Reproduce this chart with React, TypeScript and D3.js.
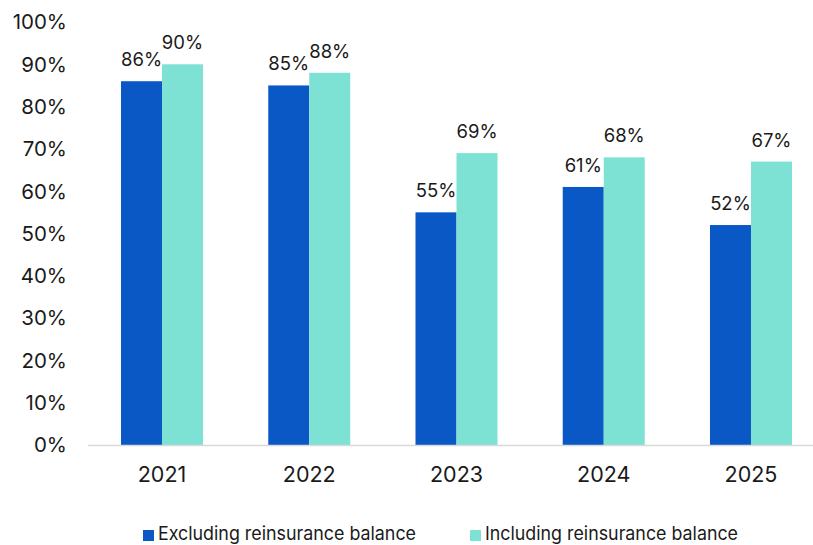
import React from "react";
import * as d3 from "d3";

const categories = ["2021", "2022", "2023", "2024", "2025"];
const excluding = [86, 85, 55, 61, 52];
const including = [90, 88, 69, 68, 67];
const yTicks = [0, 10, 20, 30, 40, 50, 60, 70, 80, 90, 100];
const seriesNames = ["Excluding reinsurance balance", "Including reinsurance balance"];
const colors = ["#0A57C6", "#7DE2D4"];

const W = 813;
const H = 545;
const FONT = "Inter, 'Noto Sans', sans-serif";

export default function App() {
  const y = d3.scaleLinear().domain([0, 100]).range([445, 22]);
  const x = d3.scaleBand().domain(categories).range([88.4, 824.6]).padding(0);
  const groupW = x.bandwidth() * 0.557;
  const sub = d3.scaleBand().domain(["ex", "in"]).range([0, groupW]).padding(0);
  const series = [excluding, including];
  const legendX = [143, 470];
  return (
    <div style={{ position: "fixed", left: 0, top: 0 }}>
      <svg width={W} height={H} style={{ display: "block", fontFamily: FONT }}>
        <rect width={W} height={H} fill="#fff" />
        {yTicks.map((t) => (
          <text key={t} x={67} y={y(t)} dy="0.36em" textAnchor="end" fontSize={20.5} fill="#1a1a1a">
            {t}%
          </text>
        ))}
        {categories.map((c, i) => {
          const gx = (x(c) as number) + (x.bandwidth() - groupW) / 2;
          return (
            <g key={c}>
              {series.map((s, si) => {
                const bx = gx + (sub(si === 0 ? "ex" : "in") as number);
                const v = s[i];
                return (
                  <g key={si}>
                    <rect x={bx} y={y(v)} width={sub.bandwidth()} height={y(0) - y(v)} fill={colors[si]} />
                    <text x={bx + sub.bandwidth() / 2} y={y(v) - 15} textAnchor="middle" fontSize={18.5} fill="#1a1a1a">
                      {v}%
                    </text>
                  </g>
                );
              })}
              <text x={(x(c) as number) + x.bandwidth() / 2} y={482} textAnchor="middle" fontSize={21.5} fill="#1a1a1a">
                {c}
              </text>
            </g>
          );
        })}
        <line x1={88} x2={815} y1={445.5} y2={445.5} stroke="#d9d9d9" strokeWidth={1.5} />
        {seriesNames.map((n, i) => {
          const lx = legendX[i];
          return (
            <g key={n}>
              <rect x={lx} y={530} width={11} height={11} fill={colors[i]} />
              <text x={lx + 15} y={540} fontSize={18.5} fill="#1a1a1a" textLength={i === 0 ? 258 : 253} lengthAdjust="spacingAndGlyphs">
                {n}
              </text>
            </g>
          );
        })}
      </svg>
    </div>
  );
}
